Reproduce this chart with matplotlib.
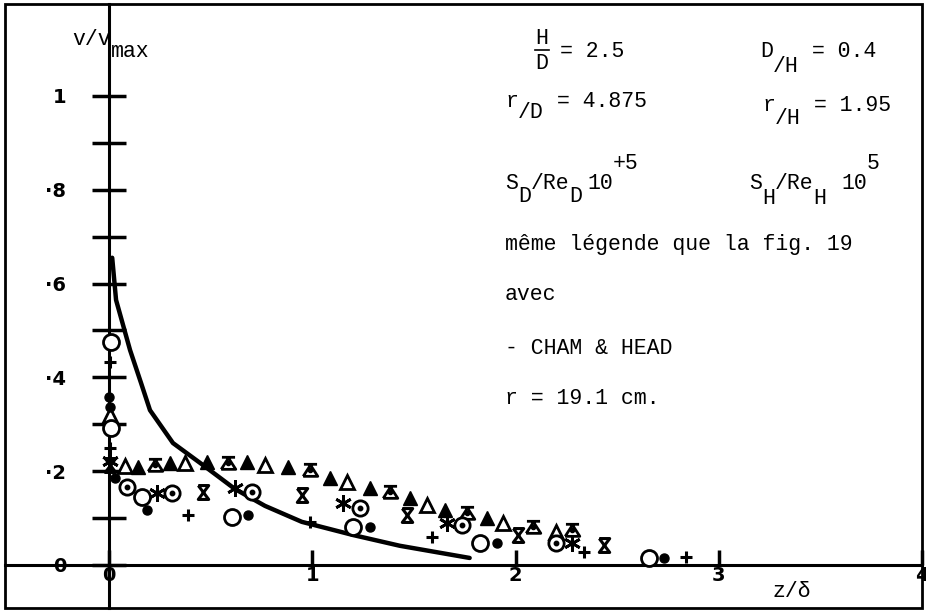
import numpy as np
import matplotlib
matplotlib.use('Agg')
import matplotlib.pyplot as plt
from matplotlib.path import Path
from matplotlib.patches import Rectangle
from matplotlib.lines import Line2D

# velocity profile v/vmax against z/delta, r = 19.1 cm
# CHAM & HEAD prediction
curve_x = [0.015, 0.034, 0.103, 0.157, 0.201, 0.314, 0.462, 0.619, 0.767, 0.948, 1.199, 1.430, 1.774]
curve_y = [0.655, 0.565, 0.458, 0.388, 0.330, 0.260, 0.213, 0.162, 0.126, 0.092, 0.064, 0.041, 0.015]

# measured points, one list pair per symbol
tri_open_x = [0.005, 0.079, 0.373, 0.767, 1.170, 1.563, 1.936, 2.201]
tri_open_y = [0.320, 0.211, 0.217, 0.213, 0.177, 0.128, 0.090, 0.070]

tri_full_x = [0.143, 0.300, 0.482, 0.678, 0.880, 1.086, 1.283, 1.479, 1.651, 1.857]
tri_full_y = [0.209, 0.217, 0.220, 0.220, 0.209, 0.186, 0.164, 0.143, 0.117, 0.100]

tri_bar_x = [0.226, 0.585, 0.988, 1.381, 1.759, 2.084, 2.280]
tri_bar_y = [0.213, 0.217, 0.203, 0.156, 0.111, 0.081, 0.075]

sablier_x = [0.005, 0.462, 0.948, 1.464, 2.010, 2.437]
sablier_y = [0.213, 0.156, 0.149, 0.107, 0.064, 0.043]

circ_dot_x = [0.088, 0.310, 0.703, 1.233, 1.735, 2.201]
circ_dot_y = [0.166, 0.154, 0.156, 0.122, 0.085, 0.047]

circ_x = [0.010, 0.010, 0.162, 0.604, 1.199, 1.823, 2.658]
circ_y = [0.475, 0.292, 0.145, 0.102, 0.081, 0.047, 0.015]

dot_x = [0.000, 0.005, 0.030, 0.187, 0.683, 1.283, 1.907, 2.732]
dot_y = [0.358, 0.336, 0.186, 0.117, 0.107, 0.081, 0.047, 0.015]

star_x = [0.005, 0.236, 0.619, 1.150, 1.661, 2.280]
star_y = [0.222, 0.154, 0.164, 0.132, 0.090, 0.047]

plus_x = [0.005, 0.005, 0.388, 0.988, 1.587, 2.339, 2.840]
plus_y = [0.433, 0.250, 0.107, 0.092, 0.060, 0.028, 0.017]

xticks = [0, 1, 2, 3, 4]
xticklabels = ['0', '1', '2', '3', '4']
yticks = [0, 0.2, 0.4, 0.6, 0.8, 1.0]
yticklabels = ['0', '·2', '·4', '·6', '·8', '1']
yminor = [0.1, 0.3, 0.5, 0.7, 0.9]

###########################################################

W, H = 926, 612
fig = plt.figure(figsize=(W/100., H/100.), dpi=100)
ax = fig.add_axes([5./W, 4./H, 917./W, 604./H])

ax.set_xlim(-0.5125, 4.0)
ax.set_ylim(-0.0917, 1.196)

for side in ['top', 'right']:
    ax.spines[side].set_visible(False)
ax.spines['left'].set_position(('data', 0))
ax.spines['bottom'].set_position(('data', 0))
ax.spines['left'].set_linewidth(2.2)
ax.spines['bottom'].set_linewidth(2.2)
ax.add_patch(Rectangle((0, 0), 1, 1, transform=ax.transAxes, fill=False,
                       lw=2, color='k', clip_on=False))

ax.set_xticks(xticks)
ax.set_xticklabels(xticklabels, fontsize=14, fontweight='bold')
ax.tick_params(axis='x', direction='in', length=11, width=2.5, pad=1)

ax.set_yticks(yticks)
ax.set_yticklabels(yticklabels, fontsize=14, fontweight='bold')
ax.set_yticks(yminor, minor=True)
ax.tick_params(axis='y', which='both', direction='inout', length=24, width=2.5, pad=19)

# CHAM & HEAD
ax.plot(curve_x, curve_y, 'k-', lw=3.2, solid_capstyle='round', zorder=3)

# hourglass and barred triangle symbols
sablier = Path([(-0.75, 1), (0.75, 1), (-0.75, -1), (0.75, -1), (-0.75, 1)])
tri_bar = Path([(-0.9, 0.85), (0.9, 0.85), (-1, -0.8), (1, -0.8), (0, 0.75), (-1, -0.8)],
               [Path.MOVETO, Path.LINETO, Path.MOVETO, Path.LINETO, Path.LINETO, Path.LINETO])

kw = dict(ls='none', color='k', zorder=4)
ax.plot(tri_open_x, tri_open_y, marker='^', ms=9.5, mfc='w', mew=2, **kw)
ax.plot(tri_full_x, tri_full_y, marker='^', ms=9.5, mew=1, **kw)
ax.plot(tri_bar_x, tri_bar_y, marker=tri_bar, ms=10.5, mfc='none', mew=2, **kw)
ax.plot(tri_bar_x, tri_bar_y, marker='o', ms=3, **kw)
ax.plot(sablier_x, sablier_y, marker=sablier, ms=10, mfc='none', mew=2.2, **kw)
ax.plot(circ_dot_x, circ_dot_y, marker='o', ms=11, mfc='w', mew=2, **kw)
ax.plot(circ_dot_x, circ_dot_y, marker='o', ms=3.2, **kw)
ax.plot(circ_x, circ_y, marker='o', ms=11.5, mfc='w', mew=2, **kw)
ax.plot(dot_x, dot_y, marker='o', ms=6.5, **kw)
ax.plot(star_x, star_y, marker=(6, 2, 0), ms=12, mew=2, **kw)
ax.plot(plus_x, plus_y, marker='+', ms=9, mew=2.2, **kw)

###########################################################
# typewritten annotations

FS = 15.5
PITCH = 0.6*FS*100/72.

def typed(x, y, parts):
    if isinstance(parts, str):
        parts = [(parts, 0)]
    col = 0
    for s, dy in parts:
        fig.text((x + col*PITCH)/W, 1 - (y + dy)/float(H), s, fontsize=FS,
                 family='Liberation Mono', ha='left', va='baseline')
        col += len(s)

typed(72, 45, [('v/v', 0), ('max', 12)])
typed(772, 597, 'z/δ')

typed(535, 44, 'H')
fig.add_artist(Line2D([535./W, 549./W], [1 - 50./H, 1 - 50./H], color='k', lw=1.2))
typed(535, 69, 'D')
typed(560, 57, '= 2.5')
typed(760, 57, [('D', 0), ('/H', 15), (' = 0.4', 0)])

typed(505, 107, [('r', 0), ('/D', 11), (' = 4.875', 0)])
typed(762, 111, [('r', 0), ('/H', 13), (' = 1.95', 0)])

typed(505, 189, [('S', 0), ('D', 13), ('/Re', 0), ('D', 13)])
typed(587, 189, '10')
typed(613, 169, '+5')
typed(749, 189, [('S', 0), ('H', 15), ('/Re', 0), ('H', 15)])
typed(841, 189, '10')
typed(867, 169, '5')

typed(505, 250, 'même légende que la fig. 19')
typed(505, 300, 'avec')
typed(505, 354, '- CHAM & HEAD')
typed(505, 404, 'r = 19.1 cm.')

plt.savefig('out.png', dpi=100)
